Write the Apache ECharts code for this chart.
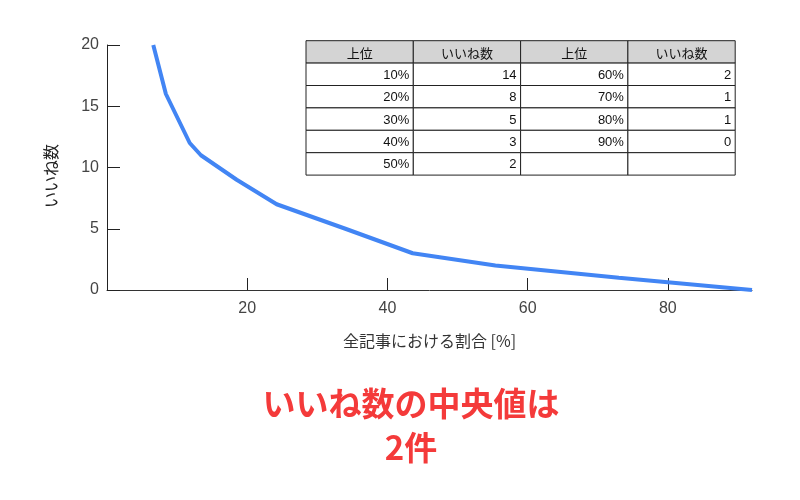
<!DOCTYPE html>
<html><head><meta charset="utf-8">
<script src="https://cdn.jsdelivr.net/npm/echarts@6/dist/echarts.min.js"></script>
<style>html,body{margin:0;padding:0;background:#fff}#c{width:800px;height:500px}</style>
</head><body><div id="c"></div>
<script>
// curve: share of all posts [%] vs likes
const sharePct = [6.6, 8.4, 11.8, 13.4, 18.5, 24.2, 34, 43.6, 55.4, 73, 92];
const likes    = [20, 16, 12, 11, 9, 7, 5, 3, 2, 1, 0];
const xTicks = [20, 40, 60, 80];
const yTicks = [0, 5, 10, 15, 20];
// table
const tableHeader = ['上位', 'いいね数', '上位', 'いいね数'];
const tableRankL = ['10%', '20%', '30%', '40%', '50%'];
const tableLikesL = [14, 8, 5, 3, 2];
const tableRankR = ['60%', '70%', '80%', '90%', ''];
const tableLikesR = [2, 1, 1, 0, ''];
const titleLines = ['いいね数の中央値は', '2件'];
const yName = 'いいね数';
const xName = '全記事における割合 [%]';

const chart = echarts.init(document.getElementById('c'), null, {renderer: 'canvas'});
const lblFont = '"Liberation Sans", Arial, sans-serif';
const jpFont = '"Noto Sans CJK JP", sans-serif';

// build table graphics
const T = {left: 306, top: 40.7, colW: 107.3, rowH: 22.4};
const g = [];
function cell(col, row, text, header) {
  const x = T.left + col * T.colW, y = T.top + row * T.rowH;
  g.push({type: 'rect', shape: {x: x, y: y, width: T.colW, height: T.rowH},
    style: {fill: header ? '#d4d4d4' : '#fff', stroke: '#222', lineWidth: 1}, z: 10});
  g.push({type: 'text', x: header ? x + T.colW / 2 : x + T.colW - 4, y: y + T.rowH / 2 + 1,
    style: {text: String(text), fill: '#111', font: '13px ' + (header ? jpFont : lblFont),
      align: header ? 'center' : 'right', verticalAlign: 'middle'}, z: 11});
}
tableHeader.forEach((h, i) => cell(i, 0, h, true));
for (let r = 0; r < tableRankL.length; r++) {
  cell(0, r + 1, tableRankL[r]);
  cell(1, r + 1, tableLikesL[r]);
  cell(2, r + 1, tableRankR[r]);
  cell(3, r + 1, tableLikesR[r]);
}
// y-axis title
g.push({type: 'text', x: 51, y: 176, rotation: Math.PI / 2,
  style: {text: yName, fill: '#222', font: '16px ' + jpFont, align: 'center', verticalAlign: 'middle'}});
titleLines.forEach((t, i) => g.push({type: 'text', x: 411, y: 403 + i * 44,
  style: {text: t, fill: '#f43a3a', font: 'bold 33px ' + jpFont, align: 'center', verticalAlign: 'middle'}}));

chart.setOption({
  animation: false,
  backgroundColor: '#fff',
  grid: {left: 107, right: 48, top: 45, bottom: 210},
  xAxis: {
    type: 'value', min: 0, max: 92,
    name: xName, nameLocation: 'middle', nameGap: 43,
    nameTextStyle: {color: '#333', fontSize: 16, fontFamily: jpFont},
    axisLine: {lineStyle: {color: '#333', width: 1}},
    axisTick: {inside: true, length: 12, customValues: xTicks, lineStyle: {color: '#222'}},
    axisLabel: {customValues: xTicks, color: '#444', fontSize: 16, fontFamily: lblFont, margin: 11},
    splitLine: {show: false}
  },
  yAxis: {
    type: 'value', min: 0, max: 20, interval: 5,
    axisLine: {show: true, lineStyle: {color: '#222', width: 1}},
    axisTick: {show: true, inside: true, length: 13, customValues: yTicks, lineStyle: {color: '#222'}},
    axisLabel: {customValues: yTicks, color: '#444', fontSize: 16, fontFamily: lblFont, margin: 8},
    splitLine: {show: false}
  },
  series: [{
    type: 'line', data: sharePct.map((x, i) => [x, likes[i]]),
    showSymbol: false, symbol: 'none', clip: true,
    lineStyle: {color: '#4285f4', width: 4}
  }],
  graphic: g
});
</script></body></html>
